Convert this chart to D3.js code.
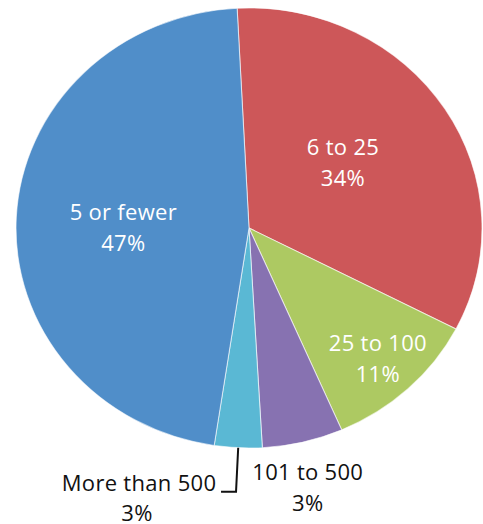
<!DOCTYPE html>
<html lang="en">
<head>
  <meta charset="UTF-8">
  <title>Pie chart</title>
  <style>
    body {
      margin: 0;
      padding: 0;
      background-color: white;
    }
    .slice-label {
      font-family: "Open Sans", sans-serif;
      font-size: 22px;
      letter-spacing: 0.3px;
      text-anchor: middle;
    }
    .leader {
      fill: none;
      stroke: #111;
      stroke-width: 2;
    }
  </style>
</head>
<body>
  <div id="chart"></div>

  <script src="https://d3js.org/d3.v7.min.js"></script>
  <script>
    // data, clockwise from 12 o'clock
    var categories = ["6 to 25", "25 to 100", "101 to 500", "More than 500", "5 or fewer"];
    var values = [33.4, 10.9, 5.6, 3.3, 46.8];
    var percentLabels = ["34%", "11%", "3%", "3%", "47%"];
    var colors = ["#cd5759", "#adc962", "#8772b1", "#5ab8d4", "#508ec9"];

    var width = 483, height = 524;
    var cx = 249, cy = 228;
    var r = 220;
    var sx = 1.059; // the original pie is slightly wider than tall

    // label placement: fraction of radius, plus a small nudge
    var labelPos = [0.48, 0.81, 1.24, 1.2, 0.54];
    var nudge = [[0, -9], [0, 0], [-8, -6], [0, 0], [0, 5]];
    var inside = [true, true, false, false, true];

    var svg = d3.select("#chart").append("svg")
      .attr("width", width)
      .attr("height", height);

    var pie = d3.pie()
      .sort(null)
      .value(function(d) { return d; })
      .startAngle(-0.051)
      .endAngle(2 * Math.PI - 0.051);

    var arcs = pie(values);

    var arc = d3.arc().innerRadius(0).outerRadius(r);

    var g = svg.append("g")
      .attr("transform", "translate(" + cx + "," + cy + ") scale(" + sx + ",1)");

    g.selectAll("path")
      .data(arcs)
      .enter().append("path")
      .attr("d", arc)
      .attr("fill", function(d, i) { return colors[i]; })
      .attr("stroke", "rgba(255,255,255,0.6)")
      .attr("stroke-width", 1);

    function pointAt(angle, rad) {
      return [cx + Math.sin(angle) * rad * sx, cy - Math.cos(angle) * rad];
    }

    var labels = svg.selectAll(".slice-label")
      .data(arcs)
      .enter().append("text")
      .attr("class", "slice-label")
      .attr("fill", function(d, i) { return inside[i] ? "white" : "#111"; });

    labels.each(function(d, i) {
      var mid = (d.startAngle + d.endAngle) / 2;
      var t = d3.select(this);
      var p;
      if (categories[i] === "More than 500") {
        // leader line from the slice edge down and to the left
        var p0 = pointAt(mid, r);
        var p1 = pointAt(mid, r * labelPos[i]);
        var p2 = [p1[0] - 15, p1[1]];
        svg.append("path")
          .attr("class", "leader")
          .attr("d", d3.line()([p0, p1, p2]));
        var lx = p2[0] - 82;
        t.append("tspan").attr("x", lx).attr("y", p1[1] - 1).text(categories[i]);
        t.append("tspan").attr("x", lx - 2).attr("dy", 30).text(percentLabels[i]);
        return;
      }
      p = pointAt(mid, r * labelPos[i]);
      var x = p[0] + nudge[i][0], y = p[1] + nudge[i][1];
      t.append("tspan").attr("x", x).attr("y", y - 7).text(categories[i]);
      t.append("tspan").attr("x", x).attr("dy", 31).text(percentLabels[i]);
    });
  </script>
</body>
</html>
